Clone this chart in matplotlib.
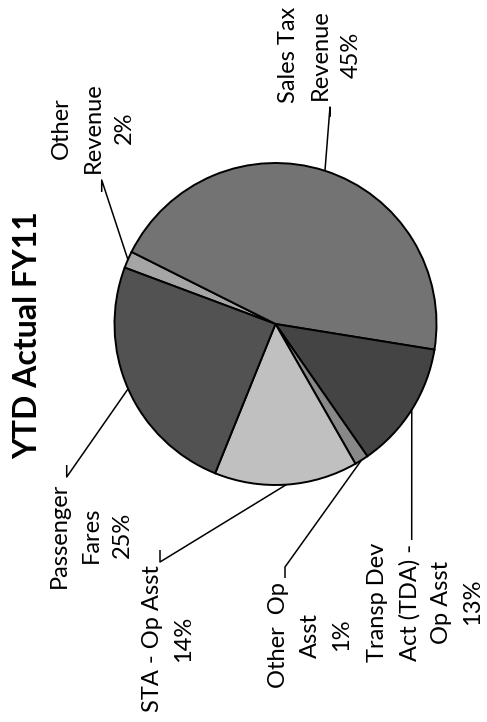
import numpy as np
import matplotlib
matplotlib.use("Agg")
import matplotlib.pyplot as plt

# slice data, clockwise from the Other Revenue slice
categories = ["Other\nRevenue", "Sales Tax\nRevenue", "Transp Dev\nAct (TDA) -\nOp Asst",
              "Other  Op\nAsst", "STA - Op Asst", "Passenger\nFares"]
shares = [1.7, 45.2, 12.8, 1.4, 14.4, 24.6]
pct_labels = ["2%", "45%", "13%", "1%", "14%", "25%"]
colors = ["#a5a5a5", "#737373", "#444444", "#888888", "#c0c0c0", "#525252"]

W, H = 487, 722

# label block centers and leader stub (in image pixels, y measured from top)
label_pos = [(93, 128), (320, 55), (425, 602), (310, 635), (168, 639), (91, 535)]
stubs = [((101.7, 180), (101.7, 192)),
         ((330, 107), (330, 117)),
         ((411.7, 540), None),
         ((285, 567), (285, 578)),
         ((160, 562), (160, 550)),
         ((66.7, 477), (66.7, 465))]

plt.rcParams['font.family'] = ['Lato', 'DejaVu Sans']

fig = plt.figure(figsize=(W / 100, H / 100), dpi=100)
ax = fig.add_axes([0, 0, 1, 1])

cx, cy, r = 275.5, H - 324, 161
wedges, _ = ax.pie(shares, colors=colors, startangle=159.5, counterclock=False,
                   center=(cx, cy), radius=r, frame=True,
                   wedgeprops=dict(edgecolor='black', linewidth=1.4))
ax.set_xlim(0, W)
ax.set_ylim(0, H)
ax.axis('off')

for w, name, pct, (lx, ly), (s0, s1) in zip(wedges, categories, pct_labels, label_pos, stubs):
    mid = np.deg2rad((w.theta1 + w.theta2) / 2)
    ex, ey = cx + r * np.cos(mid), cy + r * np.sin(mid)
    xs = [ex, s0[0]]
    ys = [ey, H - s0[1]]
    if s1 is not None:
        xs.append(s1[0])
        ys.append(H - s1[1])
    ax.plot(xs, ys, color='black', linewidth=1.1, solid_capstyle='butt')
    ax.text(lx, H - ly, name + "\n" + pct, rotation=90, ha='center', va='center',
            multialignment='center', fontsize=17, linespacing=1.6)

ax.text(27.5, H - 335, "YTD Actual FY11", rotation=90, ha='center', va='center',
        fontsize=23, fontweight='bold')

fig.savefig("out.png", dpi=100)
